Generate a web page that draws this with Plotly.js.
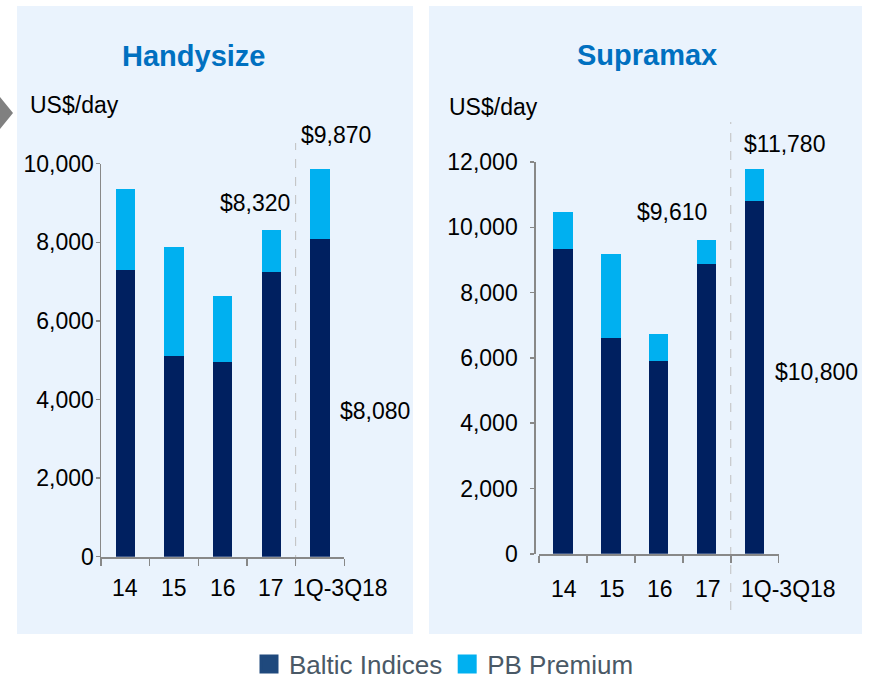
<!DOCTYPE html>
<html>
<head>
<meta charset="utf-8">
<script src="https://cdn.plot.ly/plotly-3.0.1.min.js"></script>
<style>
html,body{margin:0;padding:0;background:#fff;overflow:hidden;width:869px;height:681px;}
#chart{width:869px;height:681px;overflow:hidden;}
</style>
</head>
<body>
<div id="chart"></div>
<script>
// ---- data ----
const categories = ['14', '15', '16', '17', '1Q-3Q18'];
const handyBaltic = [7300, 5110, 4950, 7240, 8080];
const handyPremium = [2050, 2760, 1680, 1080, 1790];
const supraBaltic = [9330, 6610, 5900, 8880, 10800];
const supraPremium = [1130, 2560, 830, 730, 980];
const handyTicks = [0, 2000, 4000, 6000, 8000, 10000];
const supraTicks = [0, 2000, 4000, 6000, 8000, 10000, 12000];
const seriesNames = ['Baltic Indices', 'PB Premium'];
const panelTitles = ['Handysize', 'Supramax'];
const unitLabel = 'US$/day';

// ---- styling ----
const W = 869, H = 681;
const fx = p => p / W;
const fy = p => 1 - p / H;
const FONT = 'Liberation Sans, Arial, sans-serif';
const DARK = '#002060', LIGHT = '#00B0F0';
const AXIS = '#888888';

const handyTotal = handyBaltic.map((v, i) => v + handyPremium[i]);
const supraTotal = supraBaltic.map((v, i) => v + supraPremium[i]);
const money = v => '$' + v.toLocaleString('en-US');

const traces = [
  {type: 'bar', x: categories, y: handyBaltic, xaxis: 'x', yaxis: 'y', marker: {color: DARK}, width: 0.4, showlegend: false, name: seriesNames[0]},
  {type: 'bar', x: categories, y: handyPremium, xaxis: 'x', yaxis: 'y', marker: {color: LIGHT}, width: 0.4, showlegend: false, name: seriesNames[1]},
  {type: 'bar', x: categories, y: supraBaltic, xaxis: 'x2', yaxis: 'y2', marker: {color: DARK}, width: 0.4, showlegend: false, name: seriesNames[0]},
  {type: 'bar', x: categories, y: supraPremium, xaxis: 'x2', yaxis: 'y2', marker: {color: LIGHT}, width: 0.4, showlegend: false, name: seriesNames[1]},
  // legend entries
  {type: 'scatter', mode: 'markers', x: [null], y: [null], xaxis: 'x', yaxis: 'y', name: seriesNames[0],
   marker: {symbol: 'square', size: 16, color: '#1F497D', line: {color: '#1F497D', width: 3}}},
  {type: 'scatter', mode: 'markers', x: [null], y: [null], xaxis: 'x', yaxis: 'y', name: seriesNames[1],
   marker: {symbol: 'square', size: 16, color: LIGHT, line: {color: LIGHT, width: 3}}}
];

const xBase = {
  type: 'category', range: [-0.5, 4.5], showline: true, linecolor: AXIS, linewidth: 2.5,
  ticks: 'outside', tickson: 'boundaries', ticklen: 7, tickcolor: AXIS, tickwidth: 1.5,
  showticklabels: false, showgrid: false, zeroline: false, fixedrange: true
};
const yBase = {
  showline: true, linecolor: AXIS, linewidth: 1.5, ticks: 'outside', ticklen: 4, tickcolor: AXIS, tickwidth: 1.5,
  tickfont: {family: FONT, size: 23, color: '#000'}, tickformat: ',d', showgrid: false, zeroline: false, fixedrange: true
};

const annotations = [];
// panel titles
annotations.push({xref: 'paper', yref: 'paper', x: fx(193), y: fy(56), xanchor: 'center', yanchor: 'middle', showarrow: false,
  text: '<b>' + panelTitles[0] + '</b>', font: {family: FONT, size: 29, color: '#0070C0'}});
annotations.push({xref: 'paper', yref: 'paper', x: fx(647), y: fy(55), xanchor: 'center', yanchor: 'middle', showarrow: false,
  text: '<b>' + panelTitles[1] + '</b>', font: {family: FONT, size: 29, color: '#0070C0'}});
// unit labels
annotations.push({xref: 'paper', yref: 'paper', x: fx(28), y: fy(105), xanchor: 'left', yanchor: 'middle', showarrow: false,
  text: unitLabel, font: {family: FONT, size: 23, color: '#000'}});
annotations.push({xref: 'paper', yref: 'paper', x: fx(447), y: fy(107), xanchor: 'left', yanchor: 'middle', showarrow: false,
  text: unitLabel, font: {family: FONT, size: 23, color: '#000'}});
// category labels (category axes are positioned by index)
categories.forEach((c, i) => {
  const last = i === categories.length - 1;
  annotations.push({xref: 'x', yref: 'y', x: i, y: 0, xanchor: 'center', yanchor: 'middle', yshift: -31,
    xshift: last ? 21 : 0, showarrow: false, text: c, font: {family: FONT, size: 23, color: '#000'}});
  annotations.push({xref: 'x2', yref: 'y2', x: i, y: 0, xanchor: 'center', yanchor: 'middle', yshift: -35,
    xshift: last ? 34 : 1, showarrow: false, text: c, font: {family: FONT, size: 23, color: '#000'}});
});
// value labels
const lblFont = {family: FONT, size: 23, color: '#000'};
annotations.push({xref: 'x', yref: 'y', x: 3, y: handyTotal[3], xanchor: 'right', yanchor: 'middle', xshift: 21, yshift: 27, showarrow: false, text: money(handyTotal[3]), font: lblFont});
annotations.push({xref: 'x', yref: 'y', x: 4, y: handyTotal[4], xanchor: 'center', yanchor: 'middle', xshift: 16, yshift: 34, showarrow: false, text: money(handyTotal[4]), font: lblFont});
annotations.push({xref: 'x', yref: 'y', x: 4, y: handyBaltic[4], xanchor: 'center', yanchor: 'middle', xshift: 55, yshift: -172, showarrow: false, text: money(handyBaltic[4]), font: lblFont});
annotations.push({xref: 'x2', yref: 'y2', x: 3, y: supraTotal[3], xanchor: 'right', yanchor: 'middle', xshift: 2, yshift: 28, showarrow: false, text: money(supraTotal[3]), font: lblFont});
annotations.push({xref: 'x2', yref: 'y2', x: 4, y: supraTotal[4], xanchor: 'center', yanchor: 'middle', xshift: 30, yshift: 25, showarrow: false, text: money(supraTotal[4]), font: lblFont});
annotations.push({xref: 'x2', yref: 'y2', x: 4, y: supraBaltic[4], xanchor: 'center', yanchor: 'middle', xshift: 62, yshift: -171, showarrow: false, text: money(supraBaltic[4]), font: lblFont});

const shapes = [
  {type: 'rect', xref: 'paper', yref: 'paper', x0: fx(17), x1: fx(413), y0: fy(634), y1: fy(6), fillcolor: '#EAF3FD', line: {width: 0}, layer: 'below'},
  {type: 'rect', xref: 'paper', yref: 'paper', x0: fx(429), x1: fx(862), y0: fy(634), y1: fy(6), fillcolor: '#EAF3FD', line: {width: 0}, layer: 'below'},
  {type: 'line', xref: 'x', yref: 'paper', x0: 3.5, x1: 3.5, y0: fy(564), y1: fy(143), line: {color: '#BFBFBF', width: 1, dash: 'dash'}, layer: 'below'},
  {type: 'line', xref: 'x2', yref: 'paper', x0: 3.5, x1: 3.5, y0: fy(610), y1: fy(122), line: {color: '#BFBFBF', width: 1, dash: 'dash'}, layer: 'below'},
  {type: 'path', xref: 'paper', yref: 'paper', path: `M 0 ${fy(97)} L ${fx(13)} ${fy(113)} L 0 ${fy(129)} Z`, fillcolor: '#808080', line: {width: 0}}
];

const layout = {
  width: W, height: H,
  margin: {l: 0, r: 0, t: 0, b: 0, pad: 0, autoexpand: false},
  paper_bgcolor: '#FFFFFF', plot_bgcolor: 'rgba(0,0,0,0)',
  barmode: 'stack',
  font: {family: FONT},
  xaxis: Object.assign({}, xBase, {domain: [fx(101), fx(344.3)], anchor: 'y'}),
  yaxis: Object.assign({}, yBase, {domain: [fy(556.7), fy(163.7)], range: [0, 10000], tickvals: handyTicks, anchor: 'x', ticklabelstandoff: -3}),
  xaxis2: Object.assign({}, xBase, {domain: [fx(539), fx(778.7)], anchor: 'y2'}),
  yaxis2: Object.assign({}, yBase, {domain: [fy(553.8), fy(162)], range: [0, 12000], tickvals: supraTicks, anchor: 'free', position: fx(534.3), ticklabelstandoff: 8}),
  showlegend: true,
  legend: {orientation: 'h', traceorder: 'normal', x: fx(444), xanchor: 'center', y: fy(664), yanchor: 'middle',
    font: {family: FONT, size: 26, color: '#4A5966'}, bgcolor: 'rgba(0,0,0,0)', itemclick: false, itemdoubleclick: false},
  annotations: annotations,
  shapes: shapes,
  hovermode: false
};

Plotly.newPlot('chart', traces, layout, {displayModeBar: false, staticPlot: true});
</script>
</body>
</html>
